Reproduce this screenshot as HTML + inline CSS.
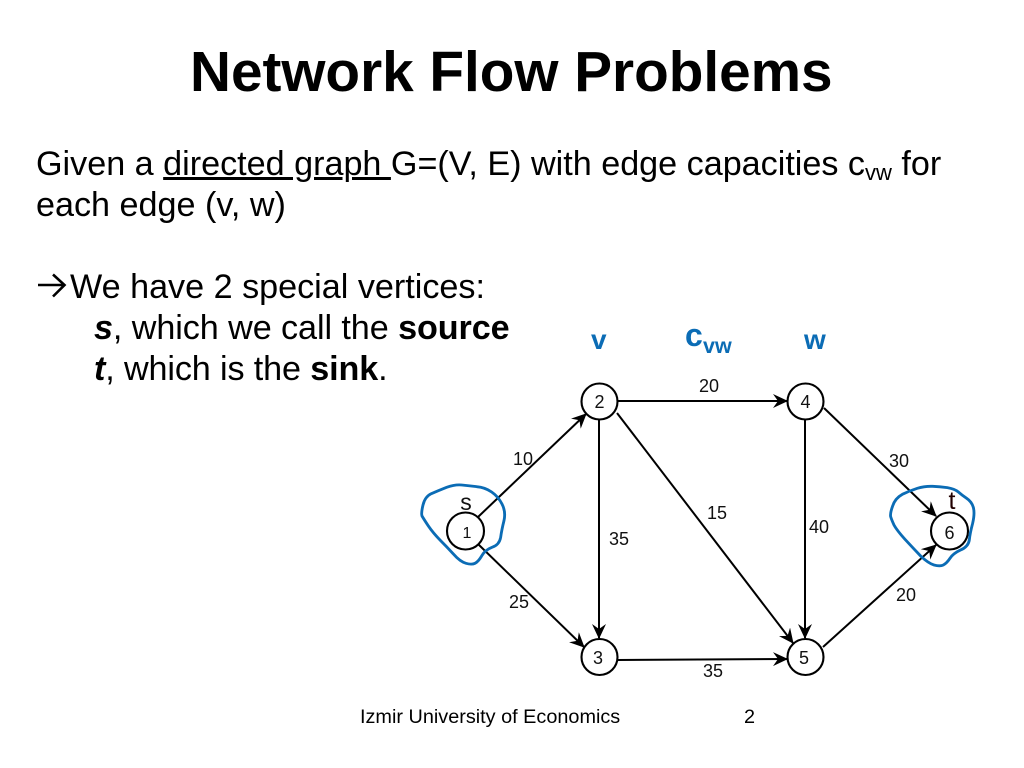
<!DOCTYPE html>
<html>
<head>
<meta charset="utf-8">
<style>
html,body{margin:0;padding:0;background:#fff;}
body{width:1024px;height:768px;overflow:hidden;position:relative;font-family:"Liberation Sans",sans-serif;color:#000;}
.t{position:absolute;white-space:nowrap;font-size:34.15px;line-height:40px;}
sub{font-size:22px;line-height:0;vertical-align:-5px;}
svg{position:absolute;left:0;top:0;}
</style>
</head>
<body>
<div class="t" style="left:190px;top:39.5px;font-size:56.7px;line-height:66px;font-weight:bold;">Network Flow Problems</div>
<div class="t" style="left:36px;top:144px;">Given a <u>directed graph </u>G=(V, E) with edge capacities c<sub>vw</sub> for</div>
<div class="t" style="left:36px;top:185px;">each edge (v, w)</div>
<div class="t" style="left:70px;top:267px;">We have 2 special vertices:</div>
<div class="t" style="left:94px;top:308px;letter-spacing:-.07px;"><b><i>s</i></b>, which we call the <b>source</b></div>
<div class="t" style="left:94px;top:349px;letter-spacing:-.12px;"><b><i>t</i></b>, which is the <b>sink</b>.</div>
<div class="t" style="left:360px;top:704px;font-size:19.85px;line-height:26px;">Izmir University of Economics</div>
<div class="t" style="left:744px;top:704px;font-size:19.85px;line-height:26px;">2</div>

<svg width="1024" height="768" viewBox="0 0 1024 768" font-family="Liberation Sans, sans-serif">
<defs>
<marker id="a" viewBox="0 0 15 14" refX="14" refY="7" markerWidth="15" markerHeight="14" markerUnits="userSpaceOnUse" orient="auto">
<path d="M0 0L15 7L0 14L5 7Z" fill="#000"/>
</marker>
</defs>
<path d="M38 285H64M53 274.5L64.5 285L53 296.5" fill="none" stroke="#000" stroke-width="2.6"/>
<g stroke="#000" stroke-width="2" fill="none">
<line x1="478" y1="517" x2="586" y2="414" marker-end="url(#a)"/>
<line x1="478" y1="544" x2="584" y2="647" marker-end="url(#a)"/>
<line x1="599" y1="419" x2="599" y2="638" marker-end="url(#a)"/>
<line x1="618" y1="401" x2="787" y2="401" marker-end="url(#a)"/>
<line x1="617" y1="413" x2="793" y2="643" marker-end="url(#a)"/>
<line x1="618" y1="660" x2="787" y2="659" marker-end="url(#a)"/>
<line x1="805" y1="419" x2="805" y2="638" marker-end="url(#a)"/>
<line x1="824" y1="408" x2="936" y2="516" marker-end="url(#a)"/>
<line x1="823" y1="647" x2="936" y2="545" marker-end="url(#a)"/>
</g>
<g stroke="#000" stroke-width="2.1" fill="#fff">
<circle cx="599.5" cy="401.5" r="18"/>
<circle cx="599.5" cy="657" r="18"/>
<circle cx="805.5" cy="401.5" r="18"/>
<circle cx="805.5" cy="657" r="18"/>
<circle cx="465.5" cy="531" r="18.5"/>
<circle cx="949.5" cy="531" r="18.5"/>
</g>
<g font-size="18" fill="#111" text-anchor="middle">
<text x="599.5" y="408">2</text>
<text x="598" y="664">3</text>
<text x="805.5" y="408">4</text>
<text x="804" y="664">5</text>
<text x="467" y="538" font-size="16">1</text>
<text x="949.5" y="539">6</text>
<text x="709" y="392">20</text>
<text x="523" y="465">10</text>
<text x="519" y="608">25</text>
<text x="619" y="545">35</text>
<text x="717" y="519">15</text>
<text x="713" y="677">35</text>
<text x="819" y="533">40</text>
<text x="899" y="467">30</text>
<text x="906" y="601">20</text>
<text x="466" y="510" font-size="23">s</text>
<text x="952" y="509" font-size="25" fill="#200">t</text>
</g>
<g fill="none" stroke="#0b6cb5" stroke-linejoin="round" stroke-linecap="round" stroke-width="8.5">
<path transform="translate(410 370) scale(.3333)" d="M64 371Q85 362 110 352Q135 343 155 345Q175 347 200 350Q225 352 245 366Q265 380 276 402Q288 425 282 452Q275 480 272 502Q268 525 246 532Q225 540 215 558Q205 575 195 580Q185 585 168 580Q150 575 130 552Q110 530 90 510Q70 490 55 468Q40 445 36 438Q33 430 39 405Q45 380 64 371Z"/>
<path transform="translate(780 370) scale(.3333)" d="M367 373Q390 362 412 355Q435 348 458 349Q480 350 502 353Q525 357 535 366Q545 375 560 385Q575 395 580 412Q585 430 578 460Q570 490 568 510Q565 530 542 540Q520 550 510 565Q500 580 490 585Q480 590 462 585Q445 580 422 558Q400 535 375 508Q350 480 342 465Q335 450 332 440Q330 430 338 408Q345 385 367 373Z"/>
</g>
<g fill="#0b6cb5" font-weight="bold" text-anchor="start">
<text x="591" y="349" font-size="28">v</text>
<text x="685" y="346" font-size="32">c</text>
<text x="703" y="353" font-size="21.5">vw</text>
<text x="804" y="349" font-size="28">w</text>
</g>
</svg>
</body>
</html>
